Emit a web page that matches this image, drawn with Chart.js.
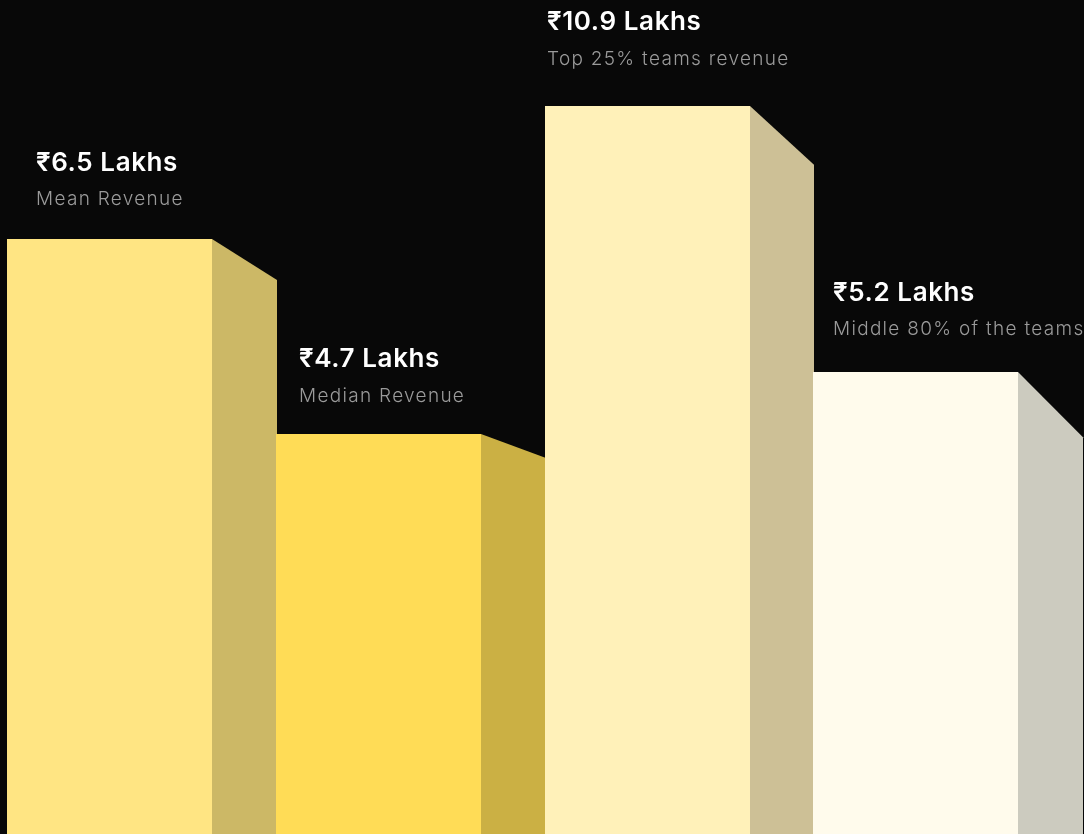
<!DOCTYPE html>
<html>
<head>
<meta charset="utf-8">
<script src="https://cdn.jsdelivr.net/npm/chart.js@4.4.1/dist/chart.umd.min.js"></script>
<style>
    html, body { margin: 0; padding: 0; background: #080808; overflow: hidden; }
    #wrap { position: relative; width: 1084px; height: 834px; }
</style>
</head>
<body>
<div id="wrap"><canvas id="main-chart"></canvas></div>
<script>
// labels under each value
const categories = ["Mean Revenue", "Median Revenue", "Top 25% teams revenue", "Middle 80% of the teams"];
// values written above the bars (₹ lakhs)
const revenueLakhs = [6.5, 4.7, 10.9, 5.2];
// the graphic is not drawn to scale, so the heights read off the picture are kept separately
const barHeights = [8.56, 5.76, 10.48, 6.65];
// height of the far edge of each bar's side face
const sideEndHeights = [7.97, 5.41, 9.63, 5.71];
const yMax = 12;

const front_colors = ["#FFE583", "#FFDC56", "#FFF1B9", "#FFFBEC"];
const side_colors = ["#CCB866", "#CBB044", "#CDC096", "#CCCBBF"];
const FRONT_RATIO = 0.762;
// text placement relative to each bar's front face
const label_inset = [29, 23, 2, 20];
const title_gap = [68, 67, 76, 71];
const sub_gap = [34, 32, 41, 37];

const bars3d = {
    id: "bars3d",
    afterDatasetsDraw(chart) {
        const { ctx } = chart;
        const y = chart.scales.y;
        const meta = chart.getDatasetMeta(0);
        ctx.save();
        meta.data.forEach((bar, i) => {
            // snap to whole pixels so the faces meet without seams
            const left = Math.round(bar.x - bar.width / 2);
            const right = Math.round(bar.x + bar.width / 2);
            const mid = Math.round(left + bar.width * FRONT_RATIO);
            const top = Math.round(bar.y);
            const base = Math.round(bar.base);

            ctx.fillStyle = side_colors[i];
            ctx.beginPath();
            ctx.moveTo(mid - 1, top);
            ctx.lineTo(mid, top);
            ctx.lineTo(right + 1, y.getPixelForValue(sideEndHeights[i]));
            ctx.lineTo(right + 1, base);
            ctx.lineTo(mid - 1, base);
            ctx.closePath();
            ctx.fill();

            ctx.fillStyle = front_colors[i];
            ctx.fillRect(left, top, mid - left, base - top);

            const tx = left + label_inset[i];
            ctx.textAlign = "left";
            ctx.textBaseline = "alphabetic";
            ctx.fillStyle = "#FFFFFF";
            ctx.font = "600 26px Inter, 'Noto Sans', sans-serif";
            ctx.letterSpacing = "0.6px";
            ctx.fillText(`₹${revenueLakhs[i]} Lakhs`, tx, top - title_gap[i]);
            ctx.fillStyle = "#9A9A9A";
            ctx.font = "300 19px Inter, 'Noto Sans', sans-serif";
            ctx.letterSpacing = "1.3px";
            ctx.fillText(categories[i], tx, top - sub_gap[i]);
        });
        ctx.restore();
    },
};

document.addEventListener("DOMContentLoaded", () => {
    const ctx = document.getElementById("main-chart").getContext("2d");
    new Chart(ctx, {
        type: "bar",
        data: {
            labels: categories,
            datasets: [{
                data: barHeights,
                backgroundColor: "rgba(0,0,0,0)",
                borderWidth: 0,
                barPercentage: 1,
                categoryPercentage: 1,
            }],
        },
        options: {
            responsive: true,
            maintainAspectRatio: false,
            animation: false,
            events: [],
            layout: {
                padding: { left: 7, right: 2, top: 0, bottom: 0 },
            },
            plugins: {
                legend: { display: false },
                tooltip: { enabled: false },
            },
            scales: {
                x: { display: false },
                y: { display: false, min: 0, max: yMax },
            },
        },
        plugins: [bars3d],
    });
});
</script>
</body>
</html>
